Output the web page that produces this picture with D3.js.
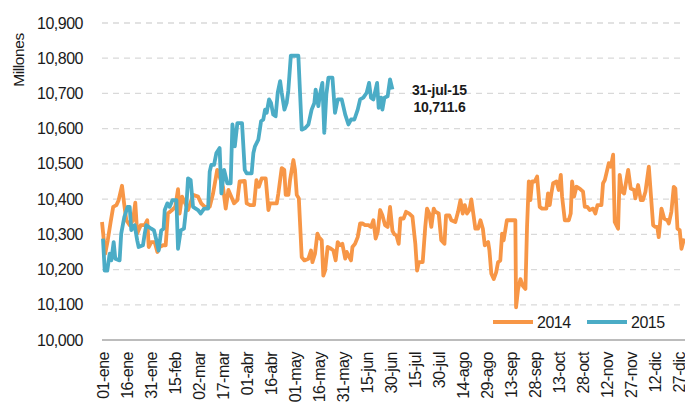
<!DOCTYPE html>
<html>
<head>
<meta charset="utf-8">
<script src="https://cdn.jsdelivr.net/npm/d3@7"></script>
<style>
	body { margin: 0; background: #fff; }
	svg { display: block; font-family: "Liberation Sans", Arial, sans-serif; }
</style>
</head>
<body>
<svg id="chart" width="685" height="405"></svg>
<script>
// Day of year (0 = 01-ene) and value, traced vertex by vertex
var days2014 = [0, 2, 3.6, 5.4, 7, 9, 10.4, 12.5, 13.8, 15.2, 17.3, 19.4, 20.8, 22, 24.2, 26.7, 28.3, 29.2, 30.8, 32.9,
	34.6, 36, 38.1, 39.8, 41.2, 43.8, 45.8, 47.5, 48.5, 50, 52, 53.8, 56.9, 60, 62, 64.2, 67.3, 69.4, 72, 73.5,
	75.6, 77.3, 79, 80.8, 82.5, 84.6, 86, 89.2, 90.4, 92.5, 95, 96.5, 98, 99.8, 102.3, 104, 105, 109.2, 110.2, 112.3,
	113.9, 114.8, 116.5, 117.5, 119.6, 120.6, 121.7, 123, 124.8, 126.5, 129, 130.6, 131.5, 133.1, 134.6, 135.6, 137.3, 138.3, 139.4, 141,
	143.1, 144.6, 146, 147.3, 148.8, 150.2, 152, 152.9, 155.6, 156.5, 158.1, 159.8, 161.3, 162.7, 164.4, 166.5, 168.1, 169.6, 171, 172.3,
	173.8, 175.2, 176.9, 178.5, 180, 181.5, 182.7, 184, 185.4, 186.5, 188.5, 190, 192, 194, 195.8, 196.9, 198, 200.4, 202, 203.1,
	204.5, 205.8, 207.3, 208.3, 210.4, 212, 214, 215, 217, 218.3, 220.8, 222.5, 224, 225.4, 226.7, 228.1, 229.6, 230.8, 232.3, 233.3,
	235, 236.5, 238, 239.2, 241.3, 242.1, 243.3, 244.8, 246.3, 247.5, 248.9, 250, 251, 253, 256.3, 258.3, 258.75, 260, 261.5, 262.9,
	264.6, 265.6, 266.7, 267.7, 268.75, 270.4, 271.9, 273.5, 275, 277.7, 278.7, 279.8, 280.8, 281.9, 284, 285.4, 286.7, 287.5, 289.2, 291.7,
	292.9, 293.75, 295, 296.5, 298.5, 300.6, 301.7, 303.3, 304.8, 306.9, 308.3, 309.6, 312.1, 313.1, 314.2, 315.2, 316.7, 318, 319.4, 320.4,
	322.5, 323.5, 325, 326.3, 327.7, 328.8, 330.4, 332.5, 333.3, 335, 336.7, 338, 339.6, 341.7, 343, 344.4, 345.8, 347, 347.9, 349.6,
	351.3, 353.3, 354.2, 355.8, 357.3, 358.3, 359.6, 361, 362.1, 363.75];
var values2014 = [10335, 10245, 10283, 10335, 10378, 10383, 10397, 10438, 10388, 10340, 10326, 10340, 10390, 10302, 10326, 10326, 10340, 10264, 10278, 10278,
	10250, 10264, 10269, 10269, 10359, 10369, 10378, 10428, 10359, 10407, 10388, 10369, 10412, 10407, 10388, 10378, 10378, 10416, 10483, 10464,
	10435, 10373, 10426, 10407, 10388, 10397, 10450, 10452, 10388, 10383, 10383, 10454, 10435, 10459, 10459, 10369, 10388, 10388, 10416, 10488,
	10483, 10412, 10412, 10454, 10511, 10483, 10412, 10402, 10235, 10226, 10231, 10254, 10221, 10245, 10302, 10292, 10283, 10183, 10197, 10264,
	10259, 10254, 10226, 10278, 10269, 10273, 10231, 10250, 10226, 10264, 10273, 10292, 10331, 10331, 10326, 10326, 10321, 10340, 10288, 10307,
	10369, 10354, 10326, 10321, 10378, 10310, 10300, 10297, 10273, 10345, 10345, 10364, 10359, 10350, 10273, 10197, 10221, 10221, 10321, 10373,
	10359, 10321, 10373, 10364, 10359, 10283, 10273, 10354, 10354, 10340, 10335, 10364, 10397, 10359, 10383, 10359, 10369, 10399, 10350, 10316,
	10316, 10340, 10316, 10269, 10278, 10254, 10188, 10173, 10192, 10221, 10226, 10302, 10283, 10340, 10340, 10340, 10093, 10145, 10173, 10154,
	10145, 10321, 10450, 10397, 10450, 10450, 10464, 10378, 10373, 10373, 10416, 10383, 10416, 10445, 10450, 10426, 10469, 10407, 10340, 10340,
	10359, 10450, 10407, 10435, 10430, 10421, 10378, 10378, 10369, 10373, 10359, 10383, 10383, 10445, 10454, 10473, 10502, 10492, 10526, 10335,
	10316, 10469, 10421, 10416, 10454, 10483, 10430, 10426, 10402, 10440, 10397, 10397, 10421, 10492, 10412, 10326, 10321, 10321, 10292, 10373,
	10345, 10340, 10331, 10364, 10435, 10430, 10316, 10312, 10259, 10288];

var days2015 = [0.6, 1.7, 3.3, 4.8, 5.8, 7.3, 8.3, 11, 12, 14, 16, 17.3, 18.3, 20.4, 22, 22.9, 25.6, 26.7, 27.7, 30.8,
	32.5, 34, 35.4, 37, 38.5, 39.2, 40.8, 42.3, 44, 46.5, 47.5, 49.2, 51.2, 52.7, 53.75, 55.4, 56.9, 60, 61.7, 63.8,
	66.3, 67.3, 68.3, 70, 71.5, 73.5, 74.6, 76.3, 78.3, 80.4, 81.5, 83, 84.6, 87.5, 89.2, 90.4, 93.5, 94.6, 95.6, 97.7,
	99.4, 100.8, 101.9, 102.9, 104.4, 105.6, 107, 108.5, 109.8, 111.3, 112.3, 114, 115.4, 116.4, 118, 122.7, 123.75, 124.8, 127, 129,
	131, 132.7, 133.5, 135.2, 136.2, 137.7, 138.9, 140.2, 141.5, 144, 145.6, 147.3, 149.8, 152, 154, 155.6, 157.7, 159.8, 161.3, 163.3,
	165.4, 166.9, 168.1, 169.6, 171.9, 172.9, 174.4, 175.2, 176.5, 178.5, 180, 181.5];
var values2015 = [10288, 10197, 10197, 10245, 10226, 10278, 10231, 10226, 10302, 10350, 10378, 10378, 10312, 10326, 10283, 10264, 10269, 10302, 10326, 10316,
	10311, 10283, 10254, 10311, 10316, 10369, 10388, 10378, 10397, 10397, 10259, 10311, 10316, 10378, 10459, 10454, 10378, 10369, 10359, 10373,
	10373, 10478, 10497, 10497, 10531, 10545, 10416, 10483, 10445, 10445, 10612, 10550, 10616, 10616, 10483, 10473, 10473, 10531, 10550, 10569,
	10621, 10626, 10654, 10645, 10683, 10673, 10640, 10635, 10702, 10735, 10702, 10654, 10673, 10707, 10807, 10807, 10702, 10597, 10602, 10612,
	10654, 10673, 10711, 10664, 10697, 10730, 10588, 10697, 10745, 10745, 10645, 10683, 10683, 10640, 10612, 10626, 10626, 10654, 10683, 10688,
	10702, 10730, 10688, 10683, 10730, 10659, 10688, 10654, 10688, 10692, 10740, 10711.6];

var tickDays = [0, 15, 30, 45, 60, 75, 90, 105, 120, 135, 150, 165, 180, 195, 210, 225, 240, 255, 270, 285, 300, 315, 330, 345, 360];
var tickLabels = ["01-ene", "16-ene", "31-ene", "15-feb", "02-mar", "17-mar", "01-abr", "16-abr", "01-may", "16-may", "31-may", "15-jun", "30-jun",
	"15-jul", "30-jul", "14-ago", "29-ago", "13-sep", "28-sep", "13-oct", "28-oct", "12-nov", "27-nov", "12-dic", "27-dic"];
var yTicks = [10000, 10100, 10200, 10300, 10400, 10500, 10600, 10700, 10800, 10900];

var seriesNames = ["2014", "2015"];
var seriesColors = ["#F79646", "#4BACC6"];
var lastLabel = ["31-jul-15", "10,711.6"];


function drawChart() {
	var svg = d3.select("#chart");

	var x = d3.scaleLinear().domain([0, 364]).range([102, 684.5]);
	var y = d3.scaleLinear().domain([10000, 10900]).range([340, 23]);
	var fmt = d3.format(",");

	// grid
	svg.append("g")
		.selectAll("line")
		.data(yTicks.slice(1))
		.enter().append("line")
			.attr("x1", x(0))
			.attr("x2", 685)
			.attr("y1", function(d) { return y(d); })
			.attr("y2", function(d) { return y(d); })
			.attr("stroke", "#d9d9d9")
			.attr("stroke-width", 1.3)
			.attr("stroke-dasharray", "6,5");

	// y axis labels
	svg.append("g")
		.selectAll("text")
		.data(yTicks)
		.enter().append("text")
			.attr("x", 83)
			.attr("y", function(d) { return y(d); })
			.attr("dy", "0.35em")
			.attr("text-anchor", "end")
			.attr("font-size", 16)
			.attr("letter-spacing", "-0.5px")
			.attr("fill", "#1a1a1a")
			.text(function(d) { return fmt(d); });

	svg.append("text")
		.attr("transform", "translate(24,60) rotate(-90)")
		.attr("text-anchor", "middle")
		.attr("font-size", 15.5)
		.attr("letter-spacing", "-0.4px")
		.attr("fill", "#1a1a1a")
		.text("Millones");

	// x axis
	svg.append("line")
		.attr("x1", x(0))
		.attr("x2", 685)
		.attr("y1", y(10000))
		.attr("y2", y(10000))
		.attr("stroke", "#a6a6a6")
		.attr("stroke-width", 1.5);

	svg.append("g")
		.selectAll("text")
		.data(tickDays)
		.enter().append("text")
			.attr("transform", function(d) { return "translate(" + (x(d) + 1) + "," + (y(10000) + 12) + ") rotate(-90)"; })
			.attr("dy", "0.35em")
			.attr("text-anchor", "end")
			.attr("font-size", 16)
			.attr("letter-spacing", "-0.5px")
			.attr("fill", "#1a1a1a")
			.text(function(d, i) { return tickLabels[i]; });

	// lines
	var series = [
		{ days: days2014, values: values2014 },
		{ days: days2015, values: values2015 }
	];

	var line = d3.line()
		.x(function(d) { return x(d[0]); })
		.y(function(d) { return y(d[1]); });

	for (var i = 0; i < series.length; i++) {
		var pts = d3.zip(series[i].days, series[i].values);
		svg.append("path")
			.datum(pts)
			.attr("fill", "none")
			.attr("stroke", seriesColors[i])
			.attr("stroke-width", 3.8)
			.attr("stroke-linejoin", "round")
			.attr("d", line);
	}

	// end label
	var lastX = x(days2015[days2015.length - 1]);
	for (var j = 0; j < lastLabel.length; j++) {
		svg.append("text")
			.attr("x", lastX + 47)
			.attr("y", 95 + j * 17)
			.attr("text-anchor", "middle")
			.attr("font-size", 14)
			.attr("font-weight", "bold")
			.attr("letter-spacing", "-0.2px")
			.attr("fill", "#1a1a1a")
			.text(lastLabel[j]);
	}

	// legend
	var legend = svg.append("g").attr("transform", "translate(493,322)");
	for (var k = 0; k < seriesNames.length; k++) {
		var lg = legend.append("g").attr("transform", "translate(" + (k * 94) + ",0)");
		lg.append("line")
			.attr("x1", 0)
			.attr("x2", 40)
			.attr("stroke", seriesColors[k])
			.attr("stroke-width", 4);
		lg.append("text")
			.attr("x", 44)
			.attr("dy", "0.35em")
			.attr("font-size", 16)
			.attr("letter-spacing", "-0.5px")
			.attr("fill", "#1a1a1a")
			.text(seriesNames[k]);
	}
}

drawChart();
</script>
</body>
</html>
